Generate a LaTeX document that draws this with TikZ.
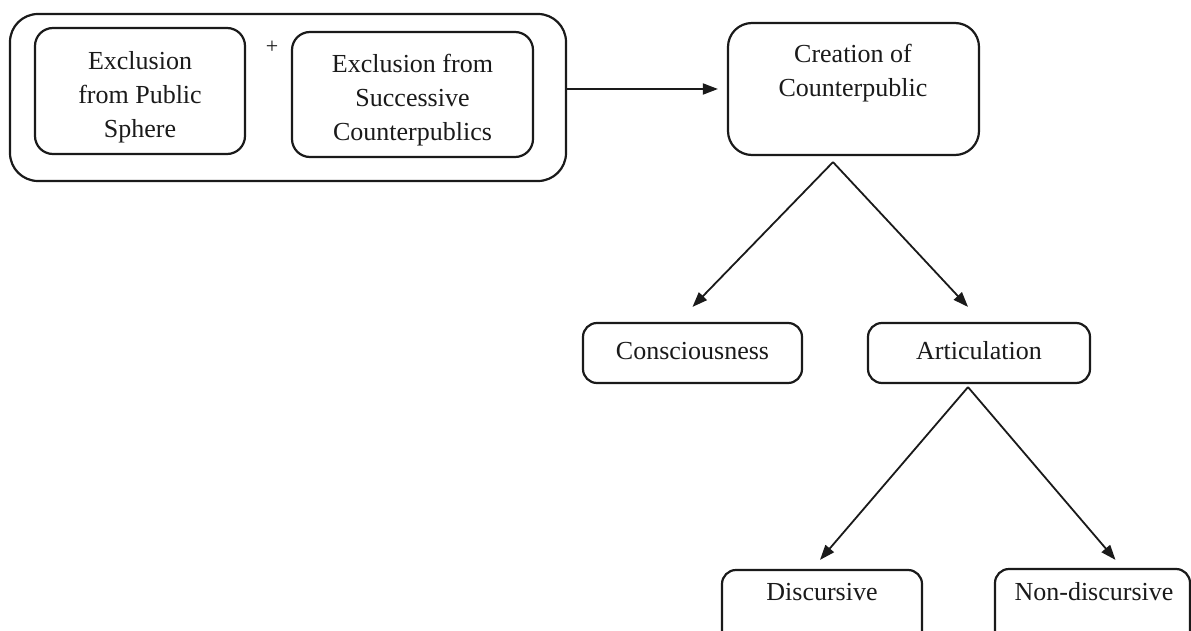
\documentclass[tikz,border=0pt]{standalone}
\usepackage{fontspec}
\setmainfont{Liberation Serif}
\usetikzlibrary{arrows.meta,calc}
\definecolor{ink}{HTML}{1A1A1A}
\begin{document}
\begin{tikzpicture}[x=1pt,y=-1pt,
  box/.style={draw=ink, line width=2.2pt, rounded corners=18pt, inner sep=0pt, align=center,
              font=\fontsize{26}{34}\selectfont, text=ink},
  txt/.style={align=center, font=\fontsize{26}{34}\selectfont, text=ink, inner sep=0pt},
  arr/.style={draw=ink, line width=1.8pt, -{Triangle[length=15pt,width=11pt]}}]
\useasboundingbox (0,0) rectangle (1191,631);
\clip (0,0) rectangle (1191,631);
\fill[white] (0,0) rectangle (1191,631);

% top group
\node[box, rounded corners=28pt, minimum width=556pt, minimum height=167pt] (outer) at (288,97.5) {};
\node[box, minimum width=210pt, minimum height=126pt] (in1) at (140,91) {};
\node[txt] (in1txt) at (140,97) {Exclusion\\from Public\\Sphere};
\node[box, minimum width=241pt, minimum height=125pt] (in2) at (412.5,94.5) {};
\node[txt] (in2txt) at (412.5,100.5) {Exclusion from\\Successive\\Counterpublics};
\node[txt, font=\fontsize{22}{26}\selectfont] (plus) at (272,47) {+};

% creation
\node[box, rounded corners=24pt, minimum width=251pt, minimum height=132pt] (creation) at (853.5,89) {};
\node[txt] (creationtxt) at (853,73) {Creation of\\Counterpublic};

% second level
\node[box, rounded corners=14pt, minimum width=219pt, minimum height=60pt] (cons) at (692.5,353) {};
\node[txt] (constxt) at (692.5,351) {Consciousness};
\node[box, rounded corners=14pt, minimum width=222pt, minimum height=60pt] (artic) at (979,353) {};
\node[txt] (artictxt) at (979,351) {Articulation};

% third level
\node[box, rounded corners=14pt, minimum width=200pt, minimum height=90pt] (disc) at (822,615) {};
\node[txt] (disctxt) at (822,592) {Discursive};
\node[box, rounded corners=14pt, minimum width=195pt, minimum height=90pt] (nondisc) at (1092.5,614) {};
\node[txt] (nondisctxt) at (1094,592) {Non-discursive};

% connectors
\draw[arr, shorten >=9pt] (outer.east |- creation.west) -- (creation.west);

\coordinate (apex1) at ($(creation.south)+(-20.5,6)$);
\coordinate (t1) at ($(cons.north)+(0,-15)$);
\coordinate (t2) at ($(artic.north)+(-11,-15)$);
\draw[arr] (apex1) -- (t1);
\draw[arr] (apex1) -- (t2);

\coordinate (apex2) at ($(artic.south)+(-11,3)$);
\coordinate (t3) at ($(disc.north)+(-2,-9)$);
\coordinate (t4) at ($(nondisc.north)+(23,-8)$);
\draw[arr] (apex2) -- (t3);
\draw[arr] (apex2) -- (t4);
\end{tikzpicture}
\end{document}
